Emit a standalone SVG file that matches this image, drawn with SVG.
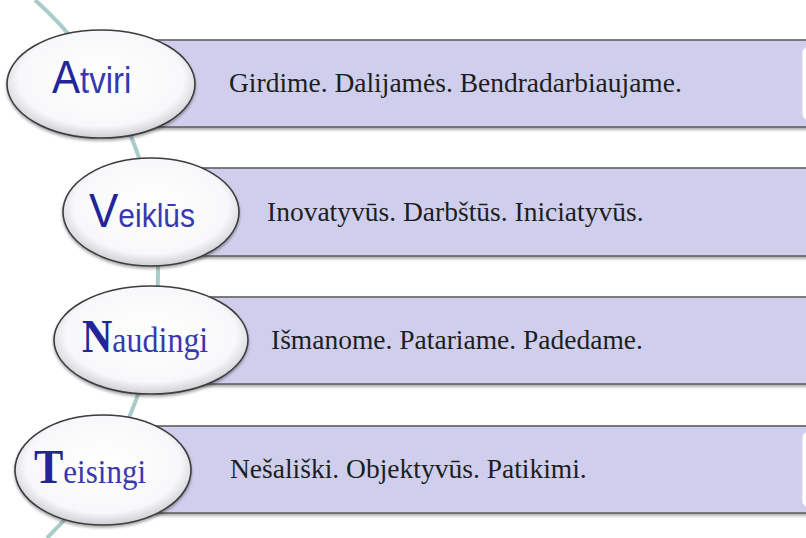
<svg xmlns="http://www.w3.org/2000/svg" width="806" height="538" viewBox="0 0 806 538">
<defs>
<radialGradient id="eg" cx="50%" cy="45%" r="55%">
<stop offset="0" stop-color="#ffffff"/>
<stop offset="0.8" stop-color="#f8f8fa"/>
<stop offset="1" stop-color="#cfcfd4"/>
</radialGradient>
<filter id="sh" x="-10%" y="-10%" width="125%" height="130%">
<feGaussianBlur in="SourceAlpha" stdDeviation="1.5"/>
<feOffset dx="0" dy="2" result="b"/>
<feComponentTransfer><feFuncA type="linear" slope="0.35"/></feComponentTransfer>
<feMerge><feMergeNode/><feMergeNode in="SourceGraphic"/></feMerge>
</filter>
<style>
.bar{fill:#cfcfed;stroke:#5f5f5f;stroke-width:1.6;filter:url(#sh)}
.inner{fill:#ffffff;stroke:#d6d6f0;stroke-width:1}
.oval{fill:url(#eg);stroke:#3c3c3c;stroke-width:1.6;filter:url(#sh)}
.txt{font-family:"Liberation Serif","Times New Roman",serif;font-size:27.5px;fill:#1e1e1e}
.sans{font-family:"Liberation Sans",Arial,sans-serif}
.serif{font-family:"Liberation Serif","Times New Roman",serif}
.big{fill:#24249a}
.rest{fill:#3838b0}
.arc{fill:none;stroke:#a9cbca;stroke-width:4}
</style>
</defs>
<rect width="806" height="538" fill="#ffffff"/>
<g id="connectors">
<path class="arc" d="M 35 0 A 368 368 0 0 1 47 538"/>
</g>
<g id="node-atviri">
<rect class="bar" x="130" y="40" width="700" height="87"/>
<rect class="inner" x="802" y="47" width="40" height="73" rx="6"/>
<ellipse class="oval" cx="101" cy="84" rx="94" ry="54"/>
<text class="sans" x="52" y="93" transform="translate(0,93) scale(1,1.1) translate(0,-93)"><tspan class="big" font-size="42">A</tspan><tspan class="rest" font-size="33">tviri</tspan></text>
<text class="txt" x="229" y="92">Girdime. Dalijamės. Bendradarbiaujame.</text>
</g>
<g id="node-veiklus">
<rect class="bar" x="180" y="168" width="650" height="88"/>
<ellipse class="oval" cx="151" cy="212" rx="88" ry="54"/>
<text class="sans" x="89" y="227" transform="translate(0,227) scale(1,1.1) translate(0,-227)"><tspan class="big" font-size="44">V</tspan><tspan class="rest" font-size="30">eiklūs</tspan></text>
<text class="txt" x="267" y="221">Inovatyvūs. Darbštūs. Iniciatyvūs.</text>
</g>
<g id="node-naudingi">
<rect class="bar" x="180" y="297" width="650" height="87"/>
<ellipse class="oval" cx="151" cy="340" rx="97" ry="54"/>
<text class="serif" x="82" y="352" transform="translate(0,352) scale(1,1.1) translate(0,-352)"><tspan class="big" font-size="42" font-weight="bold" fill="#14149c">N</tspan><tspan class="rest" font-size="32" fill="#3434c0">audingi</tspan></text>
<text class="txt" x="271" y="349">Išmanome. Patariame. Padedame.</text>
</g>
<g id="node-teisingi">
<rect class="bar" x="130" y="426" width="700" height="87"/>
<rect class="inner" x="802" y="432" width="40" height="75" rx="6"/>
<ellipse class="oval" cx="103" cy="470" rx="88" ry="55"/>
<text class="serif" x="34" y="483" transform="translate(0,483) scale(1,1.1) translate(0,-483)"><tspan class="big" font-size="44" font-weight="bold" fill="#10109c">T</tspan><tspan class="rest" font-size="31" fill="#3838c0">eisingi</tspan></text>
<text class="txt" x="230" y="478">Nešališki. Objektyvūs. Patikimi.</text>
</g>
</svg>
